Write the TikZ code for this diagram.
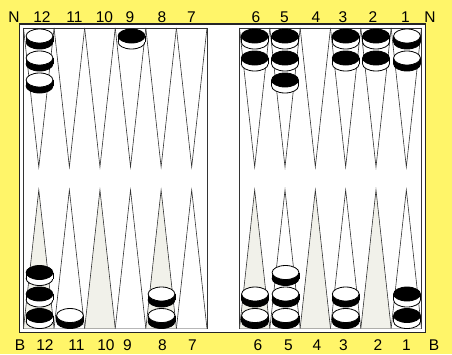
\documentclass[tikz,border=0pt]{standalone}
\usepackage{fontspec}
\setmainfont{Liberation Sans}
\definecolor{bgyellow}{RGB}{255,245,105}
\definecolor{ptshade}{RGB}{241,241,234}
\newcommand{\drawchecker}[4]{%
  \filldraw[chkline,fill=#4] (#1,#2+6) ellipse[x radius=13.4, y radius=7];
  \fill[#4] (#1-13.4,#2) rectangle (#1+13.4,#2+6);
  \draw[chkline] (#1-13.4,#2) -- (#1-13.4,#2+6) (#1+13.4,#2) -- (#1+13.4,#2+6);
  \filldraw[chkline,fill=#3] (#1,#2) ellipse[x radius=13.4, y radius=7];
}
\begin{document}
\begin{tikzpicture}[x=1pt,y=-1pt,
  lbl/.style={font=\fontsize{15.5}{16}\selectfont, inner sep=0pt, anchor=base},
  pointline/.style={line width=0.6pt, draw=black!80},
  frame/.style={line width=1.2pt, draw=black!85},
  innerframe/.style={line width=0.6pt, draw=black!80},
  chkline/.style={line width=0.8pt, draw=black}]
\useasboundingbox (0,0) rectangle (452,354);
\fill[bgyellow] (0,0) rectangle (452,354);
\filldraw[frame, fill=white] (19.5,24) rectangle (425.5,332.5);
\draw[innerframe] (23.5,28) rectangle (207,328.5);
\draw[innerframe] (239.5,28) rectangle (421.5,328.5);
% points, left half
\foreach \i in {0,...,5}{
  \pgfmathsetmacro{\xa}{23.5+\i*30.58}
  \pgfmathsetmacro{\xb}{\xa+30.58}
  \pgfmathsetmacro{\xc}{\xa+15.29}
  \draw[pointline] (\xa,28) -- (\xc,167) -- (\xb,28);
}
\foreach \i/\f in {0/ptshade,1/white,2/ptshade,3/white,4/ptshade,5/white}{
  \pgfmathsetmacro{\xa}{23.5+\i*30.58}
  \pgfmathsetmacro{\xb}{\xa+30.58}
  \pgfmathsetmacro{\xc}{\xa+15.29}
  \filldraw[pointline, fill=\f] (\xa,328.5) -- (\xc,190) -- (\xb,328.5);
}
% points, right half
\foreach \i in {0,...,5}{
  \pgfmathsetmacro{\xa}{239.5+\i*30.33}
  \pgfmathsetmacro{\xb}{\xa+30.33}
  \pgfmathsetmacro{\xc}{\xa+15.17}
  \draw[pointline] (\xa,28) -- (\xc,167) -- (\xb,28);
}
\foreach \i/\f in {0/ptshade,1/white,2/ptshade,3/white,4/ptshade,5/white}{
  \pgfmathsetmacro{\xa}{239.5+\i*30.33}
  \pgfmathsetmacro{\xb}{\xa+30.33}
  \pgfmathsetmacro{\xc}{\xa+15.17}
  \filldraw[pointline, fill=\f] (\xa,328.5) -- (\xc,190) -- (\xb,328.5);
}
% checkers, top row
\foreach \y in {36,58,80}{\drawchecker{39.5}{\y}{white}{black}}
\drawchecker{131.5}{36}{black}{white}
\foreach \y in {36,58}{\drawchecker{254.7}{\y}{black}{white}}
\foreach \y in {36,58,80}{\drawchecker{285}{\y}{black}{white}}
\foreach \y in {36,58}{\drawchecker{345.7}{\y}{black}{white}}
\foreach \y in {36,58}{\drawchecker{376}{\y}{black}{white}}
\foreach \y in {36,58}{\drawchecker{407}{\y}{white}{black}}
% checkers, bottom row
\foreach \y in {315.5,294,272.5}{\drawchecker{39.5}{\y}{black}{white}}
\drawchecker{70}{315.5}{white}{black}
\foreach \y in {315.5,294}{\drawchecker{161.5}{\y}{white}{black}}
\foreach \y in {315.5,294}{\drawchecker{255}{\y}{white}{black}}
\foreach \y in {315.5,294,272.5}{\drawchecker{285.5}{\y}{white}{black}}
\foreach \y in {315.5,294}{\drawchecker{345.7}{\y}{white}{black}}
\foreach \y in {315.5,294}{\drawchecker{407}{\y}{black}{white}}
% labels, top
\node[lbl] (tN1) at (14,22.5) {N};
\node[lbl] (t12) at (42,22.5) {12};
\node[lbl] (t11) at (74.5,22.5) {11};
\node[lbl] (t10) at (104.5,22.5) {10};
\node[lbl] (t9) at (130,22.5) {9};
\node[lbl] (t8) at (162,22.5) {8};
\node[lbl] (t7) at (191.5,22.5) {7};
\node[lbl] (t6) at (256,22.5) {6};
\node[lbl] (t5) at (284.5,22.5) {5};
\node[lbl] (t4) at (316,22.5) {4};
\node[lbl] (t3) at (343,22.5) {3};
\node[lbl] (t2) at (373,22.5) {2};
\node[lbl] (t1) at (405.5,22.5) {1};
\node[lbl] (tN2) at (430,22.5) {N};
% labels, bottom
\node[lbl] (bB1) at (20,350) {B};
\node[lbl] (b12) at (45,350) {12};
\node[lbl] (b11) at (76.5,350) {11};
\node[lbl] (b10) at (106,350) {10};
\node[lbl] (b9) at (127.5,350) {9};
\node[lbl] (b8) at (162.5,350) {8};
\node[lbl] (b7) at (192.5,350) {7};
\node[lbl] (b6) at (258,350) {6};
\node[lbl] (b5) at (288.5,350) {5};
\node[lbl] (b4) at (317,350) {4};
\node[lbl] (b3) at (343.5,350) {3};
\node[lbl] (b2) at (378,350) {2};
\node[lbl] (b1) at (406.5,350) {1};
\node[lbl] (bB2) at (434,350) {B};
\end{tikzpicture}
\end{document}
